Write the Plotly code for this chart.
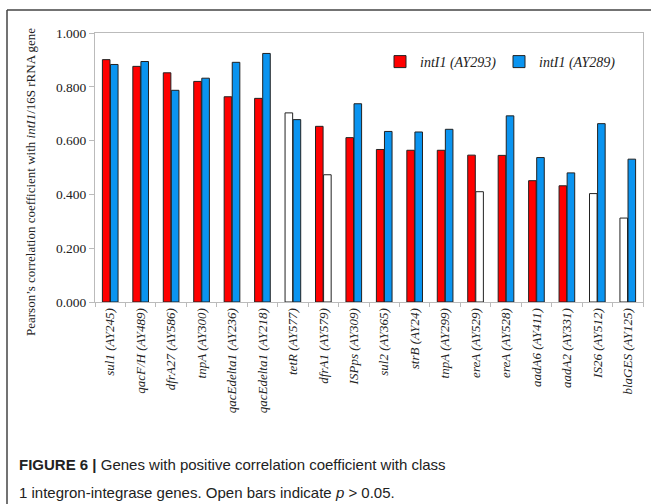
import plotly.graph_objects as go

# Genes compared against the two intI1 assays
genes = [
    "sul1 (AY245)", "qacF/H (AY489)", "dfrA27 (AY586)", "tnpA (AY300)",
    "qacEdelta1 (AY236)", "qacEdelta1 (AY218)", "tetR (AY577)", "dfrA1 (AY579)",
    "ISPps (AY309)", "sul2 (AY365)", "strB (AY24)", "tnpA (AY299)",
    "ereA (AY529)", "ereA (AY528)", "aadA6 (AY411)", "aadA2 (AY331)",
    "IS26 (AY512)", "blaGES (AY125)",
]

# Pearson's r with intI1 (AY293)
r_ay293 = [0.901, 0.876, 0.852, 0.820, 0.763, 0.757, 0.703, 0.653, 0.611,
           0.567, 0.564, 0.564, 0.546, 0.545, 0.451, 0.432, 0.403, 0.312]
# Pearson's r with intI1 (AY289)
r_ay289 = [0.883, 0.894, 0.787, 0.832, 0.891, 0.924, 0.678, 0.473, 0.737,
           0.634, 0.632, 0.642, 0.410, 0.692, 0.537, 0.480, 0.663, 0.531]

# Significance (p <= 0.05); non-significant bars are drawn open
sig_ay293 = [True, True, True, True, True, True, False, True, True,
             True, True, True, True, True, True, True, False, False]
sig_ay289 = [True, True, True, True, True, True, True, False, True,
             True, True, True, False, True, True, True, True, True]

yticks = [0.0, 0.2, 0.4, 0.6, 0.8, 1.0]

RED = "#ff0000"
BLUE = "#0a94f0"
SERIF = "Liberation Serif, Times New Roman, serif"
SANS = "Liberation Sans, Arial, sans-serif"

W, H = 651, 504
L, R, T, B = 95, 8, 33, 202


def px_x(x):
    return (x - L) / (W - L - R)


def px_y(y):
    return (H - B - y) / (H - T - B)


fig = go.Figure()
fig.add_trace(go.Bar(
    x=genes, y=r_ay293, name="<i>intI1 (AY293)</i>",
    marker=dict(color=[RED if s else "white" for s in sig_ay293],
                line=dict(color="#222222", width=1)),
))
fig.add_trace(go.Bar(
    x=genes, y=r_ay289, name="<i>intI1 (AY289)</i>",
    marker=dict(color=[BLUE if s else "white" for s in sig_ay289],
                line=dict(color="#222222", width=1)),
))

fig.update_layout(
    width=W, height=H,
    margin=dict(l=L, r=R, t=T, b=B, autoexpand=False),
    paper_bgcolor="white", plot_bgcolor="white",
    barmode="group", bargap=0.47, bargroupgap=0.06,
    showlegend=True,
    legend=dict(orientation="h", x=px_x(380), y=px_y(62), xanchor="left", yanchor="middle",
                font=dict(family=SERIF, size=14, color="#222"),
                bgcolor="rgba(0,0,0,0)", itemwidth=30, tracegroupgap=0,
                entrywidth=74),
    font=dict(family=SERIF, color="#222"),
)

fig.update_xaxes(
    type="category", tickangle=-90,
    tickfont=dict(family=SERIF, size=13, color="#222"),
    tickprefix="<i>", ticksuffix="</i>",
    showline=True, linecolor="#bbbbbb", linewidth=1, mirror=True,
    ticks="outside", tickson="boundaries", ticklen=4, tickcolor="#bbbbbb",
    showgrid=False,
)
fig.update_yaxes(
    range=[0, 1.0], tickvals=yticks, tickformat=".3f",
    tickfont=dict(family=SERIF, size=13.5, color="#222"),
    showline=True, linecolor="#bbbbbb", linewidth=1, mirror=True,
    ticks="outside", ticklen=5, tickcolor="#bbbbbb",
    showgrid=False, zeroline=False,
)

# Y axis title
fig.add_annotation(xref="paper", yref="paper", x=px_x(30), y=px_y(182),
                   xanchor="center", yanchor="middle", showarrow=False, textangle=-90,
                   text="Pearson’s correlation coefficient with <i>intI1</i>/16S rRNA gene",
                   font=dict(family=SERIF, size=13, color="#222"))

# Outer frame lines (top and left)
fig.add_shape(type="line", xref="paper", yref="paper",
              x0=px_x(7), x1=px_x(651), y0=px_y(10), y1=px_y(10),
              line=dict(color="#444444", width=1.5))
fig.add_shape(type="line", xref="paper", yref="paper",
              x0=px_x(7), x1=px_x(7), y0=px_y(10), y1=px_y(504),
              line=dict(color="#444444", width=1.5))

# Figure caption
fig.add_annotation(xref="paper", yref="paper", x=px_x(17), y=px_y(465),
                   xanchor="left", yanchor="middle", showarrow=False, align="left",
                   text="<b>FIGURE 6 |</b> Genes with positive correlation coefficient with class",
                   font=dict(family=SANS, size=15, color="#222"))
fig.add_annotation(xref="paper", yref="paper", x=px_x(17), y=px_y(492),
                   xanchor="left", yanchor="middle", showarrow=False, align="left",
                   text="1 integron-integrase genes. Open bars indicate <i>p</i> &gt; 0.05.",
                   font=dict(family=SANS, size=15, color="#222"))

fig.write_html("out.html")
